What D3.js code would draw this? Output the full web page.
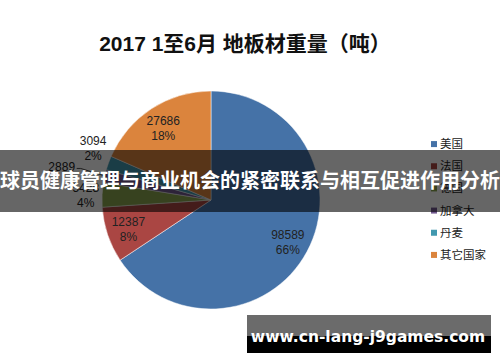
<!DOCTYPE html>
<html>
<head>
<meta charset="utf-8">
<script src="https://cdn.jsdelivr.net/npm/d3@7"></script>
<style>
  body { margin: 0; background: #fff; }
  svg { display: block; }
</style>
</head>
<body>
<div id="chart"></div>
<script>
"use strict";

// data
const countries = ["美国", "法国", "德国", "加拿大", "丹麦", "其它国家"];
const tons = [98589, 12387, 5428, 2889, 3094, 27686];
const percents = ["66%", "8%", "4%", "2%", "2%", "18%"];
const colors = ["#4572A7", "#AA4643", "#89A54E", "#71588F", "#4198AF", "#DB843D"];

const title = "2017 1至6月 地板材重量（吨）";
const banner = "球员健康管理与商业机会的紧密联系与相互促进作用分析";
const watermark = "www.cn-lang-j9games.com";

const W = 500, H = 362;
const font = "'Liberation Sans', 'Noto Sans CJK SC', sans-serif";

let svg = d3.select("#chart").append("svg")
  .attr("width", W)
  .attr("height", H);

// Title
svg.append("text")
  .attr("x", 245)
  .attr("y", 51)
  .attr("text-anchor", "middle")
  .attr("font-family", font)
  .attr("font-weight", "bold")
  .attr("font-size", "21px")
  .attr("fill", "#111")
  .text(title);

let radius = 109;
let g = svg.append("g").attr("transform", "translate(211,200)");

let pie = d3.pie().sort(null).value(d => d);
let arcs = pie(tons);
let arc = d3.arc().innerRadius(0).outerRadius(radius);

g.selectAll("path")
  .data(arcs)
  .enter().append("path")
  .attr("d", arc)
  .attr("fill", (d, i) => colors[i])
  .attr("stroke", "#fff")
  .attr("stroke-width", 0.5);

// Data labels: inside for big slices, outside for the small ones
// (Excel nudges the small outside labels a bit, so do the same here)
function labelPos(d, i) {
  let share = (d.endAngle - d.startAngle) / (2 * Math.PI);
  let a = (d.startAngle + d.endAngle) / 2;
  let f = share > 0.05 ? 0.8 : 1.15;
  let p = [Math.sin(a) * radius * f, -Math.cos(a) * radius * f];
  if (i === 4) p = [p[0], p[1] - 10];
  if (i === 3) p = [p[0] - 27, p[1] + 1];
  return p;
}

let labels = g.selectAll("g.lbl")
  .data(arcs)
  .enter().append("g")
  .attr("class", "lbl")
  .attr("transform", (d, i) => "translate(" + labelPos(d, i) + ")");

labels.append("text")
  .attr("text-anchor", "middle")
  .attr("y", -2)
  .attr("font-family", font)
  .attr("font-size", "12px")
  .attr("fill", "#222")
  .text((d, i) => tons[i]);

labels.append("text")
  .attr("text-anchor", "middle")
  .attr("y", 13)
  .attr("font-family", font)
  .attr("font-size", "12px")
  .attr("fill", "#222")
  .text((d, i) => i === 3 ? "" : percents[i]);

// leader line for Canada
let ca = arcs[3];
let caPos = labelPos(ca, 3);
let caMid = (ca.startAngle + ca.endAngle) / 2;
g.append("polyline")
  .attr("points", [
    [caPos[0] + 15, caPos[1] - 5],
    [caPos[0] + 19, caPos[1] - 5],
    [Math.sin(caMid) * radius * 0.99, -Math.cos(caMid) * radius * 0.99]
  ].join(" "))
  .attr("fill", "none")
  .attr("stroke", "#222")
  .attr("stroke-width", 0.8);

// Legend
let ly = d3.scaleBand().domain(countries).range([133, 266]);
let legend = svg.append("g");
countries.forEach(function(c, i) {
  let y = ly(c) + ly.bandwidth() / 2;
  legend.append("rect")
    .attr("x", 431)
    .attr("y", y - 3)
    .attr("width", 6)
    .attr("height", 6)
    .attr("fill", colors[i]);
  legend.append("text")
    .attr("x", 440)
    .attr("y", y + 4)
    .attr("font-family", font)
    .attr("font-size", "11.5px")
    .attr("fill", "#222")
    .text(c);
});

// Overlay banner
svg.append("rect")
  .attr("x", 0)
  .attr("y", 150)
  .attr("width", W)
  .attr("height", 62)
  .attr("fill", "#000")
  .attr("fill-opacity", 0.6);
svg.append("text")
  .attr("x", 250)
  .attr("y", 188)
  .attr("text-anchor", "middle")
  .attr("font-family", font)
  .attr("font-weight", "bold")
  .attr("font-size", "20px")
  .attr("fill", "#fff")
  .text(banner);

// Watermark box
svg.append("rect")
  .attr("x", 247)
  .attr("y", 315)
  .attr("width", 244)
  .attr("height", 21)
  .attr("fill", "#6b6b6b");
svg.append("rect")
  .attr("x", 247)
  .attr("y", 336)
  .attr("width", 244)
  .attr("height", 17)
  .attr("fill", "#000");
svg.append("text")
  .attr("x", 368)
  .attr("y", 342)
  .attr("text-anchor", "middle")
  .attr("font-family", "'DejaVu Sans', sans-serif")
  .attr("font-weight", "bold")
  .attr("font-size", "15.5px")
  .attr("fill", "#fff")
  .text(watermark);
</script>
</body>
</html>
